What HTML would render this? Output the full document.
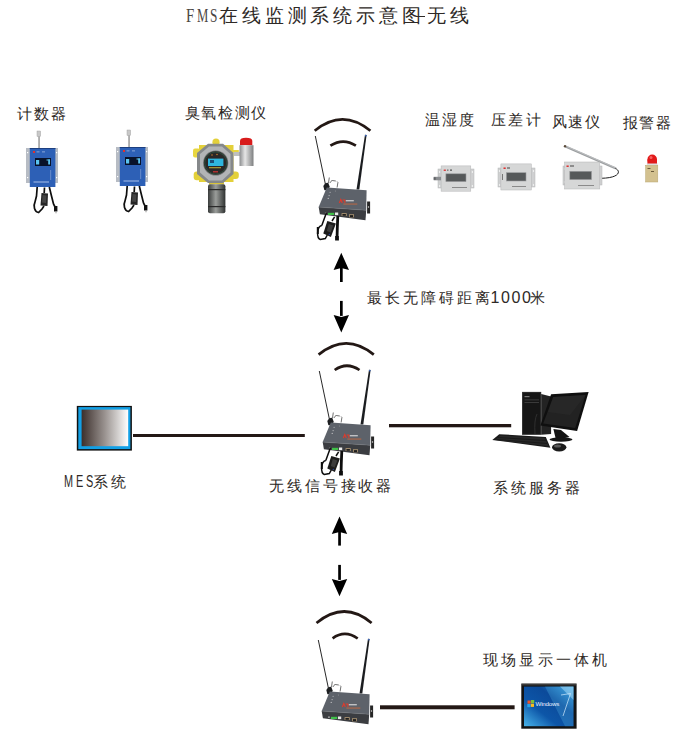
<!DOCTYPE html>
<html><head><meta charset="utf-8">
<style>
html,body{margin:0;padding:0;background:#fff;}
body{width:687px;height:743px;position:relative;overflow:hidden;font-family:"Liberation Sans",sans-serif;}
.t{position:absolute;white-space:nowrap;line-height:1;color:#2e2926;}
svg{position:absolute;left:0;top:0;}
</style></head><body>
<svg width="687" height="743" viewBox="0 0 687 743">
<defs>
  <linearGradient id="mesg" x1="0" x2="1" y1="0" y2="0">
    <stop offset="0" stop-color="#3b2f2b"/><stop offset="0.5" stop-color="#9a9390"/><stop offset="1" stop-color="#ffffff"/>
  </linearGradient>
  <linearGradient id="winbg" x1="0" y1="1" x2="1" y2="0">
    <stop offset="0" stop-color="#48b4ea"/><stop offset="0.35" stop-color="#0d56a8"/><stop offset="0.65" stop-color="#0b4a9a"/><stop offset="1" stop-color="#3aa0e0"/>
  </linearGradient>
  <linearGradient id="steel" x1="0" x2="1">
    <stop offset="0" stop-color="#8a8c8e"/><stop offset="0.4" stop-color="#e6e6e6"/><stop offset="1" stop-color="#7d7f80"/>
  </linearGradient>
  <linearGradient id="sensor" x1="0" x2="1">
    <stop offset="0" stop-color="#3a3d3c"/><stop offset="0.45" stop-color="#9a9d9a"/><stop offset="1" stop-color="#2f3231"/>
  </linearGradient>
  <g id="router">
    <!-- antennas (origin = left antenna tip) -->
    <line x1="0" y1="0" x2="10.8" y2="51.5" stroke="#1c1c1c" stroke-width="0.95"/>
    <polygon points="49.7,-1.2 51.3,-1 44,53.5 41.2,53.5" fill="#1b1d20"/>
    <circle cx="50.5" cy="-0.4" r="0.9" fill="#3a64b8"/>
    <path d="M8,50 Q10,46 13,47 L14.5,51 Q12,55 9,54 Z" fill="#1d1f21"/>
    <path d="M13.2,47 l0.8,-5.5 M14.5,47 l2.5,-3 M17,44.5 l3.5,0.5 M21.8,45.5 l0.8,1 l-0.8,5" stroke="#333" stroke-width="0.7" fill="none"/>
    <!-- body -->
    <polygon points="11.5,51.5 51.3,54.3 50.9,74.2 3.4,71.1" fill="#5d626a"/>
    <polygon points="3.4,71.1 50.9,74.2 50.2,84.3 4.6,78.2" fill="#3b3d41"/>
    <line x1="3.4" y1="71.1" x2="50.9" y2="74.2" stroke="#777b80" stroke-width="0.5"/>
    <rect x="51.8" y="65.5" width="3" height="12" fill="#262626"/>
    <rect x="52.6" y="70" width="1.2" height="2" fill="#999"/>
    <rect x="12.7" y="76.8" width="6.2" height="2.2" fill="#3fbf48"/>
    <rect x="19.7" y="76.5" width="3.2" height="2.6" fill="#e8e8e8"/>
    <rect x="26.3" y="77.2" width="5.1" height="2.8" fill="#b39a76"/>
    <rect x="27.1" y="78" width="3.5" height="1.8" fill="#1e1e1e"/>
    <rect x="33.7" y="78.3" width="5" height="3" fill="#b39a76"/>
    <rect x="34.5" y="79.1" width="3.4" height="2" fill="#1e1e1e"/>
    <rect x="10" y="76.5" width="1.3" height="1.3" fill="#ddd"/>
    <path d="M24,67 l1.5,-3.5 l1.5,3.5 M27.3,64 l2.3,0 l0,3" stroke="#e03a2a" stroke-width="1.1" fill="none"/>
    <rect x="30.5" y="64" width="8" height="1.4" fill="#d9d9d9" opacity="0.8"/>
    <rect x="28" y="67.6" width="14" height="0.9" fill="#d86a3a" opacity="0.85"/>
    <circle cx="14.8" cy="56.3" r="0.55" fill="#ccc"/><circle cx="13.8" cy="59.6" r="0.55" fill="#ccc"/><circle cx="12.9" cy="62.4" r="0.55" fill="#ccc"/>
    <circle cx="20" cy="55" r="0.4" fill="#bbb"/>
  </g>
  <g id="adapter">
    <polygon points="12,85 20.6,87.6 15.6,101 8,97.6" fill="#1c1c1c"/>
    <polygon points="13.5,88 18,89.5 15.3,96.5 11.5,95" fill="#3c3c3c"/>
    <circle cx="14" cy="98.3" r="0.6" fill="#3050c0"/>
    <path d="M11.2,76.5 L6.5,89.5 M6.5,89.5 C1.5,90.5 1,102 5,103.5 L10,102.5 L12,99" stroke="#0d0d0d" stroke-width="1.5" fill="none"/>
    <path d="M2.5,91 L2.5,98" stroke="#0d0d0d" stroke-width="2" fill="none"/>
    <path d="M22.5,80 L22,92 L21.8,100" stroke="#0d0d0d" stroke-width="2.8" fill="none"/>
    <rect x="19.8" y="100" width="3.8" height="4.5" fill="#0d0d0d"/>
    <path d="M19.3,80.8 L16.7,85" stroke="#0d0d0d" stroke-width="1.5" fill="none"/>
  </g>
</defs>

<!-- ===== top row devices ===== -->
<!-- counter 1 -->
<g id="counter">
  <rect x="37" y="131" width="3.6" height="5.5" fill="#c8c8c8" stroke="#999" stroke-width="0.4"/>
  <rect x="38.4" y="136.5" width="1.3" height="11.5" fill="#8a8a8a"/>
  <rect x="26" y="148" width="32" height="35" fill="#b7bcc4"/>
  <rect x="27" y="152" width="1.2" height="1.2" fill="#fff"/><rect x="27" y="177" width="1.2" height="1.2" fill="#fff"/>
  <rect x="56" y="152" width="1.2" height="1.2" fill="#fff"/><rect x="56" y="177" width="1.2" height="1.2" fill="#fff"/>
  <rect x="29.8" y="148" width="25.6" height="39" fill="#2d60b6"/>
  <rect x="29.8" y="148" width="25.6" height="1" fill="#1d3f80"/>
  <rect x="35" y="158" width="16" height="8" fill="#08122a"/>
  <rect x="36" y="160" width="3.2" height="4.5" fill="#5cc4f0"/>
  <rect x="48.2" y="159.5" width="1.8" height="5" fill="#5cc4f0"/>
  <rect x="46.5" y="159.5" width="3.5" height="1" fill="#5cc4f0"/>
  <rect x="33" y="151" width="2" height="2" fill="#e03030"/>
  <rect x="36.5" y="151.5" width="3" height="0.8" fill="#9fb6e0"/><rect x="42" y="151.5" width="3" height="0.8" fill="#9fb6e0"/>
  <rect x="33.5" y="181.5" width="15.5" height="1" fill="#a9c0ea"/>
  <rect x="50.5" y="170" width="0.6" height="10" fill="#8fa8d8"/>
  <polygon points="41.5,193 48,193.5 47.5,206 40.5,205.5" fill="#262626"/>
  <polygon points="42.5,195 46.5,195.5 46,203 42,202.5" fill="#444"/>
  <path d="M37.2,187 L36.5,196 L35,202 C33,206 34.5,212 38.5,212.5 L42,209 L44,206 M49.3,187 L51.5,196 L53.5,204 L55.5,208 M44.5,187.5 L44.2,193" stroke="#0e0e0e" stroke-width="1.7" fill="none"/>
  <rect x="54" y="206" width="3.4" height="5.5" fill="#111"/>
  <rect x="55" y="211.5" width="0.6" height="1.8" fill="#aaa"/><rect x="56.3" y="211.5" width="0.6" height="1.8" fill="#aaa"/>
</g>
<use href="#counter" transform="translate(90,-1)"/>

<!-- ozone detector -->
<g>
  <rect x="199" y="145" width="34.5" height="37" fill="#e3d03a"/>
  <circle cx="216" cy="142.2" r="3.6" fill="#e3d03a"/>
  <rect x="193" y="148.5" width="7" height="9" rx="2" fill="#e8d640"/>
  <rect x="232.8" y="150" width="6" height="6" fill="#e8d640"/>
  <rect x="193.7" y="171.4" width="9" height="8.8" rx="3" fill="#e3d03a"/>
  <rect x="229.4" y="171.4" width="9.4" height="7.6" rx="3" fill="#e3d03a"/>
  <rect x="209" y="180" width="15" height="4.5" fill="#d8c43a"/>
  <polygon points="208,143.8 223,143.8 233.5,153 233.5,174 223,183 208,183 197,174 197,153" fill="#85888a"/>
  <polygon points="209,146.5 222,146.5 230.5,154 230.5,172.5 222,180.5 209,180.5 200,172.5 200,154" fill="#b2b4b6"/>
  <circle cx="215.7" cy="163" r="12.6" fill="#6f7273"/>
  <circle cx="215.7" cy="163" r="11.8" fill="#2a2828"/>
  <circle cx="215.7" cy="163" r="11" fill="none" stroke="#2f6f4f" stroke-width="0.5"/>
  <rect x="208" y="158.6" width="15.4" height="7.4" fill="#2fb6de"/>
  <rect x="210" y="160" width="4" height="3" fill="#1b4f77"/>
  <rect x="209" y="167.3" width="12" height="0.9" fill="#d7c03a"/>
  <circle cx="212" cy="155" r="0.7" fill="#e08a30"/><circle cx="217" cy="154.5" r="0.7" fill="#e08a30"/>
  <rect x="213" y="171.2" width="5" height="1.2" fill="#c33"/>
  <rect x="233.5" y="152" width="6.5" height="4" fill="#bfc0c0"/>
  <path d="M240,145.2 L240,141 Q240,137.8 246,137.8 Q252.3,137.8 252.3,141 L252.3,145.2 Z" fill="#d81c1c"/>
  <rect x="239.5" y="145.2" width="14" height="20.8" fill="url(#steel)"/>
  <rect x="208" y="184.2" width="17.4" height="29" rx="2" fill="url(#sensor)"/>
  <rect x="208" y="189" width="17.4" height="1.2" fill="#2a2a2a"/>
  <rect x="208" y="206" width="17.4" height="1.2" fill="#2a2a2a"/>
</g>

<!-- small devices -->
<g>
  <rect x="438" y="169" width="36" height="19" fill="#cfd0d1" stroke="#b5b6b7" stroke-width="0.5"/>
  <circle cx="439.6" cy="172" r="0.7" fill="#fff"/><circle cx="439.6" cy="186" r="0.7" fill="#fff"/>
  <circle cx="472.4" cy="172" r="0.7" fill="#fff"/><circle cx="472.4" cy="186" r="0.7" fill="#fff"/>
  <rect x="441.1" y="165.9" width="29.7" height="25.3" fill="#d6d7d7" stroke="#b3b4b5" stroke-width="0.5"/>
  <rect x="445.9" y="173.8" width="20.1" height="7.8" fill="#56595a" stroke="#9a9c9d" stroke-width="0.6"/>
  <rect x="443.7" y="169.6" width="2.2" height="1.2" fill="#d22"/>
  <rect x="447" y="169.6" width="1.5" height="1" fill="#555"/><rect x="450" y="169.6" width="2" height="1" fill="#333"/>
  <rect x="452" y="187" width="15" height="0.8" fill="#777"/>
  <rect x="433.7" y="176.8" width="7.3" height="3.5" fill="#8a8d90"/>
  <rect x="433.7" y="177.3" width="2" height="2.5" fill="#5f6265"/>
</g>
<g>
  <rect x="498" y="168" width="37" height="19" fill="#cfd0d1" stroke="#b5b6b7" stroke-width="0.5"/>
  <circle cx="499.5" cy="171" r="0.7" fill="#fff"/><circle cx="499.5" cy="185" r="0.7" fill="#fff"/>
  <circle cx="533.5" cy="171" r="0.7" fill="#fff"/><circle cx="533.5" cy="185" r="0.7" fill="#fff"/>
  <rect x="500.9" y="163.9" width="30.4" height="26.1" fill="#d6d7d7" stroke="#b3b4b5" stroke-width="0.5"/>
  <rect x="506.4" y="172.7" width="19.6" height="8.3" fill="#56595a" stroke="#9a9c9d" stroke-width="0.6"/>
  <rect x="503.5" y="167.5" width="2.2" height="1.4" fill="#d22"/>
  <rect x="507" y="167.5" width="3" height="1" fill="#444"/>
  <rect x="512" y="186" width="14" height="0.8" fill="#777"/>
  <rect x="502" y="174" width="1" height="6" fill="#777"/>
</g>
<g>
  <line x1="565.5" y1="146.5" x2="616" y2="168.5" stroke="#9c9fa1" stroke-width="2.2"/>
  <line x1="565.5" y1="146" x2="616" y2="168" stroke="#d0d2d3" stroke-width="0.6"/>
  <circle cx="565" cy="146.3" r="1.2" fill="#5a4a3a"/>
  <path d="M615.5,168.5 C621,171 620,178 601,178.3" stroke="#1e1e1e" stroke-width="1" fill="none"/>
  <rect x="563" y="166" width="39" height="19" fill="#cfd0d1" stroke="#b5b6b7" stroke-width="0.5"/>
  <circle cx="564.5" cy="169" r="0.7" fill="#fff"/><circle cx="564.5" cy="182" r="0.7" fill="#fff"/>
  <rect x="564.6" y="162" width="35.2" height="27" fill="#d6d7d7" stroke="#b3b4b5" stroke-width="0.5"/>
  <rect x="569.8" y="171.3" width="21.7" height="8.3" fill="#56595a" stroke="#9a9c9d" stroke-width="0.6"/>
  <rect x="566.5" y="165.5" width="2.2" height="1.4" fill="#d22"/>
  <rect x="570" y="165.5" width="4" height="1" fill="#444"/>
  <rect x="578" y="185" width="16" height="0.8" fill="#777"/>
</g>
<g>
  <ellipse cx="652.2" cy="159.5" rx="4.8" ry="5" fill="#e21a1a"/>
  <rect x="647.4" y="159.5" width="9.6" height="4.5" fill="#e21a1a"/>
  <ellipse cx="651" cy="157.5" rx="1.5" ry="1.5" fill="#ff8080" opacity="0.7"/>
  <rect x="646.8" y="163.5" width="10.8" height="1.8" fill="#ddd"/>
  <rect x="645.6" y="165.3" width="12.2" height="16.7" fill="#d3c18f" stroke="#b9a772" stroke-width="0.5"/>
  <rect x="647.5" y="168" width="3" height="1" fill="#6a5a3a"/><rect x="651" y="171" width="3" height="1" fill="#6a5a3a"/>
</g>

<!-- arcs router 1 -->
<path d="M314.7,130.7 Q342.6,108 370.4,130.8" stroke="#231815" stroke-width="2.7" fill="none"/>
<path d="M330.4,145.7 Q343.2,137.5 355.9,145.7" stroke="#231815" stroke-width="2.7" fill="none"/>
<use href="#router" transform="translate(315.3,136)"/>
<use href="#adapter" transform="translate(315.3,136)"/>

<!-- arrows 1 -->
<g fill="#000">
  <polygon points="341.3,252.8 349,270 341.3,268 333.6,270"/>
  <rect x="340" y="267" width="2.7" height="15"/>
  <rect x="340" y="300.9" width="2.7" height="15"/>
  <polygon points="341.3,332.5 349,315 341.3,317 333.6,315"/>
</g>

<!-- arcs router 2 -->
<path d="M318.6,354.6 Q346.2,332 373.8,354.6" stroke="#231815" stroke-width="2.7" fill="none"/>
<path d="M334.7,370 Q346.8,361.5 359.5,370" stroke="#231815" stroke-width="2.7" fill="none"/>
<use href="#router" transform="translate(319.3,371)"/>
<use href="#adapter" transform="translate(319.3,371)"/>

<!-- MES monitor + line -->
<rect x="76.8" y="405.9" width="55.1" height="44.7" fill="#111"/>
<rect x="78.3" y="407.1" width="52.1" height="42" fill="#12a0e6"/>
<rect x="81.6" y="409.6" width="46.6" height="36.6" fill="url(#mesg)"/>
<rect x="133" y="434" width="171.8" height="3" fill="#231815"/>
<rect x="389" y="424" width="122.2" height="3.3" fill="#231815"/>

<!-- computer -->
<g>
  <polygon points="541.2,394 551.1,396.5 551.1,434 541.2,434.7" fill="#232323"/>
  <rect x="522.1" y="391.9" width="19.1" height="42.8" fill="#161616"/>
  <rect x="522.6" y="392.4" width="18.1" height="41.8" fill="none" stroke="#3a3a3a" stroke-width="0.6"/>
  <rect x="524.5" y="396" width="5" height="1.2" fill="#777"/>
  <rect x="524.5" y="399.5" width="14.5" height="0.8" fill="#444"/>
  <rect x="524.5" y="402" width="14.5" height="0.8" fill="#444"/>
  <path d="M537,414 Q534,420 535,434" stroke="#3a3a3a" stroke-width="0.7" fill="none"/>
  <polygon points="551.1,394.2 588.6,391.9 577.1,430.9 540.4,425.5" fill="#0f0f0f"/>
  <polygon points="553.2,397 585.5,395 575.2,428 543.2,423.6" fill="#222222"/>
  <polygon points="553.2,397 585.5,395 570,415 548,412" fill="#2c2c2c" opacity="0.6"/>
  <polygon points="553.4,429 561,430 569.5,437 556,440" fill="#141414"/>
  <ellipse cx="561" cy="439.5" rx="11.5" ry="2.2" fill="#151515"/>
  <polygon points="499.2,434.2 545.8,437 550.4,447.7 492.3,440" fill="#1a1a1a"/>
  <polygon points="500.5,435.5 544.5,438 548.5,446 495,440" fill="#2e2e2e" opacity="0.7"/>
  <path d="M498,437.5 L546,440.5 M496.5,439.5 L547,443.5" stroke="#111" stroke-width="0.6"/>
  <ellipse cx="559.2" cy="447.3" rx="7.2" ry="4.1" fill="#1b1b1b"/>
  <ellipse cx="557.5" cy="446" rx="3.5" ry="1.6" fill="#5a5a5a"/>
</g>

<!-- arrows 2 -->
<g fill="#000">
  <polygon points="339.5,516.4 347.2,534 339.5,532 331.8,534"/>
  <rect x="338.2" y="531" width="2.7" height="14.6"/>
  <rect x="338.2" y="564.9" width="2.7" height="15"/>
  <polygon points="339.5,596.3 347.2,579 339.5,581 331.8,579"/>
</g>

<!-- arcs router 3 -->
<path d="M316.5,623 Q344.4,600 371.6,623" stroke="#231815" stroke-width="2.7" fill="none"/>
<path d="M332.6,638.3 Q345,629.5 357.7,638.5" stroke="#231815" stroke-width="2.7" fill="none"/>
<use href="#router" transform="translate(318.3,640)"/>
<rect x="380" y="705.3" width="134.6" height="4" fill="#231815"/>

<!-- windows monitor -->
<rect x="521.3" y="683.5" width="55.3" height="45.2" fill="#141414"/>
<rect x="522" y="684" width="54" height="1.5" fill="#555" opacity="0.6"/>
<rect x="524" y="686.6" width="49.5" height="39.6" fill="url(#winbg)"/>
<polygon points="545,686.6 573.5,686.6 573.5,726.2 565,726.2" fill="#5cc3f0" opacity="0.25"/>
<polygon points="560,686.6 573.5,686.6 573.5,700" fill="#bfe9ff" opacity="0.45"/>
<rect x="527.5" y="700.5" width="3.2" height="3.2" fill="#f0542a"/><rect x="531" y="700" width="3.2" height="3.2" fill="#7cc23a"/>
<rect x="527.3" y="704" width="3.2" height="3.2" fill="#27a4e8"/><rect x="530.8" y="703.7" width="3.2" height="3.2" fill="#ffbb1c"/>
<text x="535.5" y="706.3" font-family="Liberation Sans" font-size="6.2" fill="#e8f2ff" letter-spacing="-0.2">Windows</text>
<path d="M561,695 L570.5,693.5 L563,716" stroke="#d8efff" stroke-width="0.9" fill="none" opacity="0.75"/>
</svg>

<!-- ===== text ===== -->
<div class="t" style="left:185.8px;top:6px;font-family:'Liberation Serif',serif;font-size:19px;color:#4a4542;transform:scaleX(0.78);transform-origin:0 0;">F</div>
<div class="t" style="left:196.5px;top:6px;font-family:'Liberation Serif',serif;font-size:19px;color:#4a4542;transform:scaleX(0.67);transform-origin:0 0;">M</div>
<div class="t" style="left:210.3px;top:6px;font-family:'Liberation Serif',serif;font-size:19px;color:#4a4542;transform:scaleX(0.7);transform-origin:0 0;">S</div>
<div class="t" style="left:219.3px;top:6.5px;font-size:18.6px;letter-spacing:3.8px;">在线监测系统示意图</div>
<div style="position:absolute;left:416.2px;top:16px;width:8.8px;height:1.2px;background:#2e2926;"></div>
<div class="t" style="left:426.8px;top:6.5px;font-size:18.6px;letter-spacing:3.8px;">无线</div>
<div class="t" style="left:17px;top:105.5px;font-size:15px;letter-spacing:2px;">计数器</div>
<div class="t" style="left:184.8px;top:105px;font-size:15px;letter-spacing:1.6px;">臭氧检测仪</div>
<div class="t" style="left:424.5px;top:111.5px;font-size:15px;letter-spacing:2.2px;">温湿度</div>
<div class="t" style="left:490.8px;top:111.5px;font-size:15px;letter-spacing:2.4px;">压差计</div>
<div class="t" style="left:551.8px;top:113.5px;font-size:15px;letter-spacing:1.4px;">风速仪</div>
<div class="t" style="left:622.5px;top:114.5px;font-size:15px;letter-spacing:1.8px;">报警器</div>
<div class="t" style="left:367px;top:289.5px;font-size:15px;letter-spacing:3px;">最长无障碍距离</div>
<div class="t" style="left:490.5px;top:289.5px;font-size:16px;letter-spacing:1.6px;">1000</div>
<div class="t" style="left:530px;top:290px;font-size:15px;">米</div>
<div class="t" style="left:64px;top:473.5px;font-size:16px;letter-spacing:4.2px;transform:scaleX(0.68);transform-origin:0 0;">MES</div>
<div class="t" style="left:93px;top:474.5px;font-size:14.5px;letter-spacing:3px;">系统</div>
<div class="t" style="left:269px;top:477.5px;font-size:15px;letter-spacing:2.9px;">无线信号接收器</div>
<div class="t" style="left:493px;top:480px;font-size:15px;letter-spacing:3px;">系统服务器</div>
<div class="t" style="left:483px;top:652px;font-size:15px;letter-spacing:3.2px;">现场显示一体机</div>
</body></html>
